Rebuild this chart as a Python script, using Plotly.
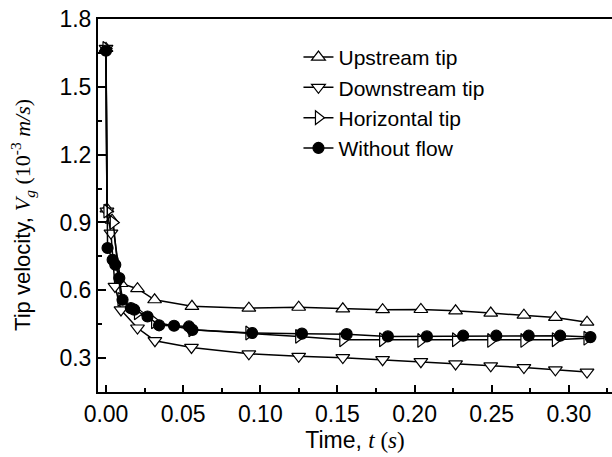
import plotly.graph_objects as go

# ---- data ----
up_t = [0.0, 0.0006, 0.0039, 0.0097, 0.0204, 0.0315, 0.0557, 0.0926, 0.1249, 0.1535,
        0.1793, 0.2041, 0.2266, 0.2494, 0.2709, 0.2913, 0.3118]
up_v = [1.67, 0.96, 0.91, 0.63, 0.607, 0.558, 0.529, 0.521, 0.525, 0.518,
        0.514, 0.515, 0.509, 0.499, 0.490, 0.480, 0.459]

down_t = [0.0, 0.0006, 0.0032, 0.0058, 0.0097, 0.0204, 0.0317, 0.0554, 0.0926, 0.1249,
          0.1535, 0.1793, 0.2041, 0.2266, 0.2494, 0.2709, 0.2913, 0.3118]
down_v = [1.67, 0.95, 0.853, 0.617, 0.513, 0.433, 0.377, 0.347, 0.319, 0.308,
          0.302, 0.293, 0.284, 0.274, 0.266, 0.258, 0.248, 0.238]

hor_t = [0.0, 0.0006, 0.0047, 0.0097, 0.0204, 0.0315, 0.0557, 0.0926, 0.1249, 0.1535,
         0.1793, 0.2041, 0.2266, 0.2494, 0.2709, 0.2913, 0.3118]
hor_v = [1.67, 0.95, 0.90, 0.56, 0.50, 0.46, 0.425, 0.411, 0.396, 0.381,
         0.381, 0.378, 0.381, 0.378, 0.378, 0.381, 0.388]

wf_t = [0.0, 0.0010, 0.0043, 0.0060, 0.0086, 0.0107, 0.0161, 0.0183, 0.0269, 0.0344,
        0.0441, 0.0538, 0.0560, 0.0947, 0.1270, 0.1560, 0.1827, 0.2080, 0.2315,
        0.2530, 0.2740, 0.2944, 0.3140]
wf_v = [1.66, 0.787, 0.735, 0.713, 0.654, 0.558, 0.521, 0.514, 0.484, 0.445,
        0.443, 0.440, 0.425, 0.411, 0.408, 0.406, 0.396, 0.396, 0.399,
        0.399, 0.399, 0.399, 0.393]

names = ["Upstream tip", "Downstream tip", "Horizontal tip", "Without flow"]

x_ticks = [0.0, 0.05, 0.10, 0.15, 0.20, 0.25, 0.30]
y_ticks = [0.3, 0.6, 0.9, 1.2, 1.5, 1.8]

fig = go.Figure()
series = [
    (up_t, up_v, "triangle-up", "white", 12),
    (down_t, down_v, "triangle-down", "white", 12),
    (hor_t, hor_v, "triangle-right", "white", 12),
    (wf_t, wf_v, "circle", "black", 11),
]
for (t, v, sym, fill, sz), nm in zip(series, names):
    fig.add_trace(go.Scatter(
        x=t, y=v, name=nm, mode="lines+markers",
        line=dict(color="black", width=1.5),
        marker=dict(symbol=sym, size=sz, color=fill, line=dict(color="black", width=1.2)),
        cliponaxis=False,
    ))

fig.update_layout(
    width=612, height=457,
    margin=dict(l=98, r=0, t=19, b=65),
    paper_bgcolor="white", plot_bgcolor="white",
    font=dict(family="Liberation Sans, Arial, sans-serif", size=22, color="black"),
    showlegend=True,
    legend=dict(x=0.39, y=0.952, xanchor="left", yanchor="top",
                font=dict(size=21), bgcolor="rgba(0,0,0,0)", itemwidth=30),
    xaxis=dict(
        range=[-0.0052, 0.328], tickvals=x_ticks, ticktext=[f"{v:.2f}" for v in x_ticks],
        ticks="inside", ticklen=7, tickwidth=2, tickcolor="black",
        tickfont=dict(size=23),
        minor=dict(tickvals=[0.025, 0.075, 0.125, 0.175, 0.225, 0.275, 0.325],
                   ticks="inside", ticklen=4, tickwidth=2, tickcolor="black"),
        showline=True, linewidth=2, linecolor="black", mirror=True,
        showgrid=False, zeroline=False,
        title=dict(text="Time, <span style='font-family:Liberation Serif'><i>t</i> (<i>s</i>)</span>",
                   font=dict(size=23), standoff=4),
    ),
    yaxis=dict(
        range=[0.15, 1.8], tickvals=y_ticks, ticktext=[f"{v:.1f}" for v in y_ticks],
        ticks="inside", ticklen=8, tickwidth=2, tickcolor="black",
        tickfont=dict(size=23),
        minor=dict(tickvals=[0.45, 0.75, 1.05, 1.35, 1.65],
                   ticks="inside", ticklen=4, tickwidth=2, tickcolor="black"),
        showline=True, linewidth=2, linecolor="black", mirror=False,
        showgrid=False, zeroline=False,
    ),
    annotations=[dict(
        text="Tip velocity, <span style='font-family:Liberation Serif'><i>V</i><sub><i>g</i></sub> (10<sup>-3</sup> <i>m/s</i>)</span>",
        textangle=-90, xref="paper", yref="paper", x=-0.148, y=0.4745,
        xanchor="center", yanchor="middle", showarrow=False, font=dict(size=22),
    )],
)

fig.write_html("out.html")
